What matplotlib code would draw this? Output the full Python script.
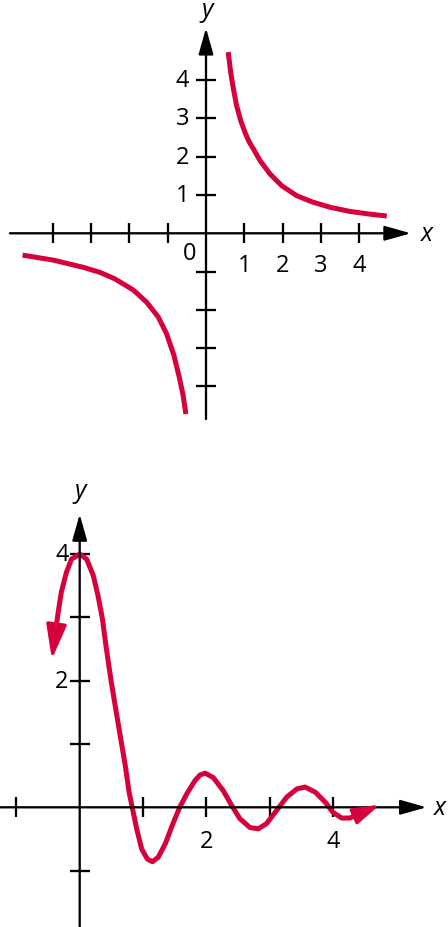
import matplotlib.pyplot as plt

plt.rcParams['font.family'] = ['Open Sans', 'DejaVu Sans']

RED = '#d6003d'

# top graph: two hyperbola branches
hyp_right_x = [0.58, 0.645, 0.71, 0.80, 0.91, 1.04, 1.13, 1.24, 1.41, 1.67, 1.98, 2.37,
               2.80, 3.24, 3.76, 4.28, 4.72]
hyp_right_y = [4.73, 4.20, 3.80, 3.33, 2.93, 2.58, 2.38, 2.20, 1.90, 1.55, 1.24, 0.98,
               0.81, 0.68, 0.57, 0.50, 0.45]
hyp_left_x = [-4.79, -3.99, -3.2, -2.77, -2.38, -1.90, -1.55, -1.25, -1.03, -0.84, -0.70,
              -0.60, -0.525]
hyp_left_y = [-0.57, -0.70, -0.89, -1.02, -1.19, -1.48, -1.80, -2.18, -2.62, -3.18, -3.75,
              -4.22, -4.72]
top_ticks = [-4, -3, -2, -1, 1, 2, 3, 4]
top_labels = [1, 2, 3, 4]

# bottom graph: damped wave, first and last points are the arrow tips
wave_x = [-0.44, -0.38, -0.34, -0.29, -0.21, -0.13, 0, 0.11, 0.215, 0.29, 0.36, 0.415,
          0.50, 0.57, 0.64, 0.72, 0.78, 0.83, 0.90, 0.98, 1.07, 1.15, 1.24, 1.35, 1.48,
          1.58, 1.69, 1.82, 1.90, 1.98, 2.11, 2.27, 2.40, 2.53, 2.69, 2.82, 2.95, 3.11,
          3.27, 3.43, 3.56, 3.72, 3.88, 4.0, 4.14, 4.27, 4.37, 4.45, 4.74]
wave_y = [2.34, 2.79, 3.08, 3.40, 3.71, 3.92, 4.0, 3.92, 3.66, 3.34, 2.97, 2.55,
          1.97, 1.55, 1.13, 0.66, 0.24, 0, -0.34, -0.66, -0.82, -0.86, -0.79, -0.58, -0.24,
          0, 0.21, 0.42, 0.51, 0.54, 0.47, 0.26, 0.03, -0.18, -0.32, -0.34, -0.26, -0.05,
          0.16, 0.29, 0.32, 0.24, 0.08, -0.08, -0.17, -0.17, -0.12, -0.09, 0.04]
bot_ticks = [-1, 1, 2, 3, 4]
bot_labels = [2, 4]

FS = 17
AX_LW = 1.65


def draw_axes(ax, xr, yr):
    head = dict(arrowstyle='-|>,head_length=1.6,head_width=0.45', color='black',
                lw=AX_LW, shrinkA=0, shrinkB=0, mutation_scale=10)
    ax.annotate('', xy=(xr[1], 0), xytext=(xr[0], 0), arrowprops=head)
    ax.annotate('', xy=(0, yr[1]), xytext=(0, yr[0]), arrowprops=head)


def draw_ticks(ax, ticks):
    ax.plot(ticks, [0] * len(ticks), ls='none', marker='|', ms=14.5, mew=AX_LW, color='black')
    ax.plot([0] * len(ticks), ticks, ls='none', marker='_', ms=14.5, mew=AX_LW, color='black')


fig = plt.figure(figsize=(4.48, 9.28), dpi=100)

# ---- top graph ----
ax1 = fig.add_axes([0, 1 - 440 / 928, 1, 440 / 928])
ax1.set_xlim(-5.379, 6.319)
ax1.set_ylim(-5.371, 6.117)
ax1.axis('off')
draw_axes(ax1, (-5.12, 5.35), (-4.85, 5.36))
draw_ticks(ax1, top_ticks)
ax1.plot(hyp_right_x, hyp_right_y, color=RED, lw=3.6, solid_capstyle='butt',
         solid_joinstyle='round')
ax1.plot(hyp_left_x, hyp_left_y, color=RED, lw=3.6, solid_capstyle='butt',
         solid_joinstyle='round')
for t in top_labels:
    ax1.text(t, -0.83, str(t), fontsize=FS, ha='center', va='center')
    ax1.text(-0.62, t, str(t), fontsize=FS, ha='center', va='center')
ax1.text(-0.42, -0.51, '0', fontsize=FS, ha='center', va='center')
ax1.text(5.77, 0, 'x', fontsize=FS + 1, style='italic', ha='center', va='center')
ax1.text(0.03, 5.83, 'y', fontsize=FS + 1, style='italic', ha='center', va='center')

# ---- bottom graph ----
ax2 = fig.add_axes([0, 0, 1, 488 / 928])
ax2.set_xlim(-1.259, 5.818)
ax2.set_ylim(-1.891, 5.818)
ax2.axis('off')
draw_axes(ax2, (-1.3, 5.48), (-1.95, 4.63))
draw_ticks(ax2, bot_ticks)
ax2.plot(wave_x[1:-1], wave_y[1:-1], color=RED, lw=3.6, solid_capstyle='butt',
         solid_joinstyle='round')
ax2.annotate('', xy=(wave_x[0], wave_y[0]), xytext=(wave_x[1], wave_y[1]),
             arrowprops=dict(arrowstyle='-|>,head_length=2.1,head_width=0.62', color=RED,
                             lw=2.5, shrinkA=0, shrinkB=0, mutation_scale=10))
ax2.annotate('', xy=(wave_x[-1], wave_y[-1]), xytext=(wave_x[-2], wave_y[-2]),
             arrowprops=dict(arrowstyle='-|>,head_length=1.6,head_width=0.5', color=RED,
                             lw=2.5, shrinkA=0, shrinkB=0, mutation_scale=10))
for t in bot_labels:
    ax2.text(t, -0.53, str(t), fontsize=FS, ha='center', va='center')
    ax2.text(-0.28, t, str(t), fontsize=FS, ha='center', va='center')
ax2.text(5.69, 0, 'x', fontsize=FS + 1, style='italic', ha='center', va='center')
ax2.text(0.0, 5.0, 'y', fontsize=FS + 1, style='italic', ha='center', va='center')

fig.savefig('out.png', dpi=100)
